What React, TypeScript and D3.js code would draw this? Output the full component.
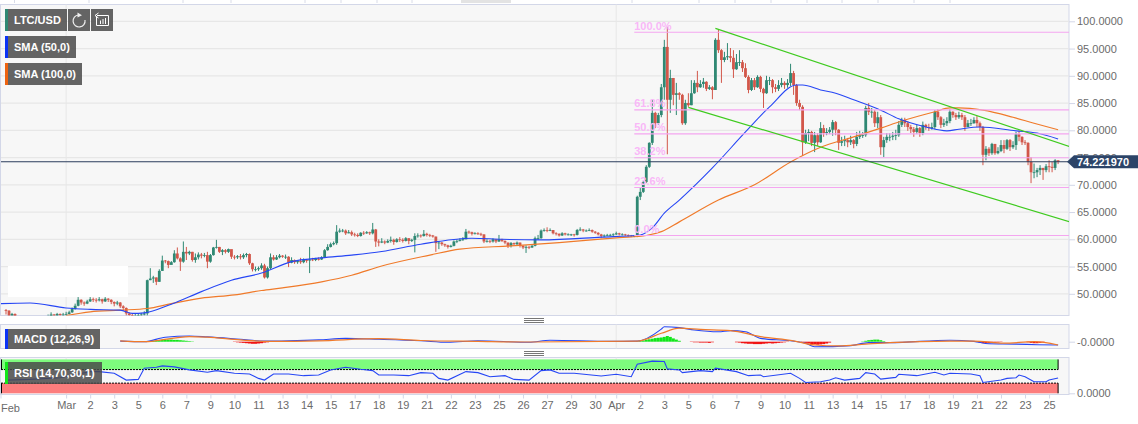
import { useRef, useEffect } from "react";
import * as d3 from "d3";

// 4h candles, one row per 10 candles
const firstOpen = 47.0;
const closes = [
  46.9, 46.0, 46.3, 45.8, 45.5, 45.2, 45.0, 44.7, 44.5, 44.8,
  44.6, 44.9, 45.1, 45.3, 45.9, 46.2, 46.0, 46.3, 46.1, 46.2,
  46.3, 46.6, 47.2, 47.8, 48.9, 48.4, 48.2, 48.6, 49.0, 48.9,
  48.8, 49.0, 48.6, 49.1, 48.9, 48.5, 48.2, 48.4, 47.7, 47.4,
  46.4, 46.1, 45.9, 46.0, 46.1, 46.2, 46.4, 52.5, 52.8, 53.0,
  52.2, 54.2, 56.1, 56.0, 55.3, 55.8, 57.4, 56.5, 55.9, 57.7,
  57.4, 57.7, 56.2, 56.7, 57.2, 57.0, 57.1, 55.9, 57.1, 58.5,
  58.6, 57.7, 58.0, 57.7, 58.2, 56.8, 56.7, 56.9, 56.7, 57.1,
  57.3, 55.6, 54.5, 54.5, 54.7, 55.2, 53.0, 54.7, 56.7, 56.3,
  56.7, 57.0, 56.8, 56.8, 55.7, 56.2, 55.8, 56.0, 55.8, 56.2,
  56.1, 56.3, 56.2, 56.4, 56.3, 56.7, 58.0, 58.6, 59.1, 59.3,
  61.4, 61.6, 61.6, 61.1, 61.3, 60.9, 60.8, 60.6, 61.2, 61.1,
  61.3, 61.1, 61.8, 59.6, 59.4, 59.6, 59.4, 59.7, 59.9, 59.5,
  60.0, 59.9, 59.7, 60.2, 59.7, 59.9, 60.6, 60.7, 60.6, 61.0,
  60.8, 60.7, 60.5, 59.3, 59.4, 59.1, 58.9, 58.6, 58.8, 59.6,
  59.7, 59.9, 60.0, 61.4, 61.3, 61.0, 61.1, 61.0, 60.9, 59.6,
  59.7, 59.6, 60.0, 59.6, 60.0, 59.7, 59.4, 58.8, 59.3, 59.1,
  59.4, 58.8, 58.5, 58.6, 58.5, 58.8, 60.2, 60.2, 61.6, 61.7,
  61.6, 61.7, 61.1, 61.0, 60.7, 61.1, 60.9, 60.9, 60.9, 60.8,
  61.7, 61.8, 61.6, 61.6, 61.7, 61.4, 61.2, 60.9, 60.6, 60.7,
  60.8, 60.8, 60.9, 61.1, 60.9, 60.9, 60.8, 60.7, 60.6, 60.6,
  67.8, 68.7, 70.5, 73.3, 77.7, 83.2, 81.3, 82.8, 87.9, 95.3,
  85.6, 89.6, 86.5, 86.8, 86.5, 81.3, 85.0, 84.6, 86.8, 88.7,
  87.9, 88.5, 88.9, 87.6, 87.9, 87.4, 96.6, 94.7, 92.9, 93.4,
  93.6, 93.3, 91.2, 92.5, 92.5, 91.4, 89.8, 87.4, 89.2, 87.9,
  89.8, 87.6, 86.8, 89.2, 89.2, 87.9, 87.6, 88.3, 88.7, 88.3,
  88.7, 90.5, 88.3, 85.0, 84.3, 77.8, 79.5, 79.7, 77.7, 79.1,
  77.8, 80.4, 79.5, 79.7, 80.1, 81.5, 80.1, 77.7, 78.0, 78.2,
  77.8, 78.2, 77.5, 78.8, 79.1, 79.1, 84.1, 83.4, 83.4, 81.3,
  82.4, 76.9, 78.2, 78.8, 78.8, 79.0, 79.1, 81.0, 81.9, 81.3,
  80.6, 80.2, 79.7, 80.4, 79.5, 81.0, 80.6, 80.4, 80.6, 83.4,
  82.4, 81.0, 81.3, 81.7, 83.4, 82.8, 82.4, 82.8, 82.4, 80.6,
  81.3, 81.3, 81.9, 81.3, 80.6, 75.5, 76.6, 75.8, 77.5, 75.8,
  76.2, 77.3, 76.6, 78.2, 76.9, 77.3, 79.3, 78.8, 77.8, 77.7,
  74.2, 72.3, 72.3, 72.7, 73.1, 72.7, 73.4, 73.3, 73.1, 74.5, 74.22,
];
const highs = [
  47.2, 47.0, 46.5, 46.4, 45.9, 45.6, 45.3, 45.0, 44.8, 45.1,
  44.9, 45.2, 45.4, 45.6, 46.2, 46.6, 46.3, 46.5, 46.4, 46.5,
  46.7, 46.9, 47.5, 48.2, 49.4, 49.0, 48.6, 48.9, 49.4, 49.3,
  49.2, 49.4, 49.1, 49.4, 49.2, 49.0, 48.6, 48.7, 48.5, 47.9,
  47.5, 46.6, 46.3, 46.3, 46.4, 46.5, 46.8, 52.6, 54.7, 53.3,
  53.0, 54.5, 57.0, 56.2, 56.1, 56.0, 58.0, 58.5, 56.7, 59.6,
  58.6, 57.9, 57.7, 57.4, 57.6, 57.5, 57.5, 57.7, 57.3, 58.6,
  59.9, 58.6, 58.2, 58.2, 58.3, 58.0, 57.1, 57.1, 57.3, 57.4,
  57.5, 57.4, 55.7, 55.0, 55.0, 55.6, 55.5, 55.0, 57.4, 57.1,
  57.1, 57.3, 57.1, 57.2, 56.9, 56.7, 56.3, 56.2, 56.6, 56.5,
  56.4, 58.6, 56.6, 56.6, 56.7, 56.9, 58.2, 59.1, 59.4, 59.6,
  62.6, 62.0, 61.9, 61.8, 61.7, 61.6, 61.2, 61.1, 61.3, 61.5,
  61.5, 61.4, 63.0, 61.9, 60.0, 60.2, 59.8, 60.0, 60.5, 60.1,
  60.2, 60.4, 60.2, 60.4, 60.2, 60.1, 61.1, 61.1, 60.9, 61.7,
  61.2, 61.0, 60.8, 60.5, 59.7, 59.5, 59.2, 59.0, 59.0, 59.8,
  60.0, 60.2, 60.4, 61.9, 61.6, 61.4, 61.3, 61.3, 61.2, 60.9,
  60.0, 59.9, 60.2, 60.0, 60.8, 60.1, 59.8, 59.4, 59.5, 59.4,
  59.6, 59.4, 58.9, 58.9, 58.8, 59.0, 60.5, 60.8, 61.8, 62.0,
  62.2, 62.0, 61.7, 61.3, 61.1, 61.3, 61.2, 61.1, 61.0, 61.0,
  61.9, 62.2, 61.9, 61.8, 62.0, 61.8, 61.5, 61.3, 61.0, 60.9,
  61.0, 61.0, 61.1, 61.4, 61.2, 61.1, 61.0, 60.9, 60.8, 60.8,
  68.0, 69.4, 70.7, 73.6, 77.8, 85.6, 83.4, 83.2, 88.5, 96.6,
  99.0, 91.1, 89.6, 88.7, 87.0, 86.7, 85.6, 86.8, 89.2, 89.2,
  90.9, 89.2, 89.6, 89.0, 88.3, 88.1, 96.9, 98.4, 94.9, 94.4,
  96.0, 95.1, 94.7, 94.0, 94.7, 92.9, 92.3, 90.1, 89.6, 89.6,
  90.1, 90.0, 87.8, 90.0, 89.8, 89.4, 88.5, 89.2, 89.6, 89.0,
  89.4, 92.2, 90.9, 88.5, 85.6, 84.6, 80.1, 80.2, 79.9, 79.7,
  79.5, 81.5, 81.0, 80.4, 80.6, 81.9, 81.7, 80.2, 78.8, 79.0,
  78.6, 79.0, 78.4, 79.7, 79.9, 79.7, 84.5, 85.0, 84.1, 83.7,
  83.4, 82.8, 78.8, 79.5, 79.5, 79.7, 80.1, 81.7, 82.3, 82.3,
  81.7, 81.0, 80.6, 81.0, 80.6, 81.6, 81.2, 81.2, 81.4, 83.7,
  83.9, 82.6, 82.1, 82.4, 83.9, 83.5, 83.2, 83.4, 83.2, 82.8,
  81.9, 82.1, 82.4, 82.6, 81.6, 80.8, 77.1, 76.9, 77.7, 77.5,
  76.9, 78.2, 78.2, 78.4, 78.4, 78.0, 79.7, 79.9, 78.9, 78.2,
  77.8, 75.1, 73.9, 73.1, 73.6, 73.1, 73.8, 74.5, 74.2, 74.7, 74.5,
];
const lows = [
  46.2, 45.6, 45.7, 45.5, 45.0, 44.8, 44.6, 44.3, 44.2, 44.5,
  44.3, 44.6, 44.8, 45.0, 45.2, 45.7, 45.6, 45.8, 45.7, 45.9,
  46.0, 46.2, 46.5, 47.1, 47.7, 48.0, 47.8, 48.1, 48.5, 48.5,
  48.4, 48.6, 48.2, 48.5, 48.5, 48.1, 47.7, 47.9, 47.4, 46.9,
  46.0, 45.7, 45.5, 45.6, 45.7, 45.9, 46.0, 46.0, 52.5, 52.0,
  51.6, 52.2, 54.2, 55.6, 54.7, 55.5, 55.7, 56.3, 54.2, 55.7,
  56.2, 57.1, 55.9, 55.7, 56.3, 56.5, 56.7, 54.7, 55.7, 57.0,
  58.3, 57.5, 57.1, 57.4, 57.5, 56.4, 56.3, 56.4, 56.3, 56.4,
  56.7, 55.3, 54.1, 54.1, 54.2, 54.4, 52.8, 52.8, 54.5, 56.1,
  56.2, 56.5, 56.6, 56.4, 54.9, 55.6, 55.5, 55.5, 55.5, 55.6,
  55.7, 53.8, 56.0, 56.0, 56.1, 56.2, 56.6, 57.9, 58.5, 58.9,
  59.0, 61.2, 61.3, 60.8, 61.1, 60.6, 60.5, 60.4, 60.5, 60.8,
  61.0, 60.8, 60.9, 58.6, 58.7, 59.3, 59.1, 59.3, 59.4, 59.0,
  59.4, 59.5, 59.4, 59.6, 59.1, 59.5, 57.6, 60.3, 60.3, 60.5,
  60.5, 60.4, 60.3, 57.7, 58.2, 58.8, 58.6, 58.3, 58.5, 58.7,
  59.3, 59.6, 59.7, 60.0, 61.0, 60.7, 60.9, 60.8, 60.6, 59.3,
  59.4, 59.3, 59.4, 59.3, 59.5, 59.5, 59.1, 58.4, 58.5, 58.8,
  58.9, 58.5, 58.2, 57.5, 58.2, 58.4, 58.7, 59.9, 60.1, 61.4,
  61.3, 61.5, 60.9, 60.7, 60.5, 60.6, 60.7, 60.7, 60.6, 60.5,
  60.7, 61.5, 61.3, 61.4, 61.5, 61.2, 61.0, 60.7, 60.2, 60.4,
  60.6, 60.6, 60.6, 60.8, 60.7, 60.7, 60.6, 60.5, 60.4, 60.4,
  60.4, 67.2, 68.5, 70.3, 73.1, 77.3, 80.4, 81.0, 82.4, 85.6,
  75.6, 83.2, 84.6, 82.8, 85.6, 81.0, 81.0, 84.3, 84.6, 86.7,
  87.0, 87.8, 87.8, 87.2, 87.4, 85.7, 87.4, 94.2, 88.7, 92.5,
  92.9, 92.5, 89.6, 91.1, 91.8, 90.7, 89.6, 86.8, 87.2, 87.4,
  87.8, 87.0, 84.1, 86.7, 88.3, 86.8, 87.0, 87.2, 87.9, 87.6,
  87.8, 88.1, 86.5, 84.5, 83.7, 75.3, 77.5, 78.0, 77.1, 76.0,
  77.1, 77.7, 78.8, 79.1, 79.3, 79.0, 79.1, 76.4, 77.1, 77.1,
  76.9, 77.3, 76.7, 77.1, 78.4, 78.6, 78.8, 82.8, 82.3, 80.6,
  80.4, 75.5, 75.1, 77.7, 78.0, 78.2, 78.2, 78.8, 80.6, 80.6,
  79.9, 79.5, 78.8, 79.3, 78.8, 79.1, 80.1, 79.9, 80.1, 80.2,
  81.9, 80.4, 80.6, 80.8, 81.3, 82.3, 81.9, 82.1, 81.9, 79.9,
  80.6, 80.8, 81.2, 80.6, 79.9, 73.6, 74.5, 75.3, 75.5, 75.5,
  75.6, 76.0, 75.8, 76.4, 76.2, 76.6, 76.4, 78.0, 77.3, 77.3,
  73.6, 70.3, 71.2, 71.4, 71.8, 70.9, 72.3, 72.3, 72.3, 72.7, 73.8,
];

const sma50Index = [-2, 8, 20, 28, 38, 42, 46, 55, 65, 75, 85, 95, 105, 115, 125, 138, 155, 165, 178, 198, 211, 215, 219, 224, 235, 246, 254, 263, 265, 271, 276, 282, 291, 297, 306, 313, 317, 324, 336, 343, 350];
const sma50Values = [48.2, 48.3, 47.4, 47.15, 47.0, 46.4, 46.5, 48.1, 50.4, 52.5, 53.8, 55.9, 56.6, 57.1, 57.75, 59.1, 60.2, 60.0, 59.9, 60.4, 60.8, 62.1, 64.8, 67.2, 73.1, 79.7, 84.3, 88.3, 88.3, 87.4, 86.8, 85.6, 83.7, 82.1, 80.6, 79.9, 80.2, 80.6, 79.9, 79.5, 78.4];
const sma100Index = [20, 28, 38, 47, 55, 65, 76, 85, 92, 105, 115, 125, 141, 151, 168, 184, 204, 213, 218, 224, 237, 249, 261, 271, 282, 291, 298, 309, 314, 317, 325, 335, 342, 350];
const sma100Values = [46.0, 46.7, 47.0, 47.3, 48.2, 49.2, 49.8, 50.6, 51.1, 52.2, 53.4, 55.1, 57.1, 58.2, 58.8, 59.4, 60.3, 60.7, 61.4, 63.2, 67.2, 70.0, 74.2, 76.9, 78.8, 80.4, 81.7, 83.4, 84.1, 84.1, 83.7, 82.4, 81.3, 80.1];

const channelUpper = { index: [236, 354], value: [98.7, 77.0] };
const channelLower = { index: [227, 354], value: [84.2, 63.2] };

const fibStart = 209;
const fibEnd = 354;
const fibLabels = ["100.0%", "61.8%", "50.0%", "38.2%", "23.6%", "0.0%"];
const fibValues = [98.0, 83.75, 79.35, 74.95, 69.5, 60.7];

const priceTicks = [50, 55, 60, 65, 70, 75, 80, 85, 90, 95, 100];
const lastPrice = 74.22197;

const macdIndex = [38, 46, 53, 61, 67, 78, 86, 94, 104, 113, 124, 138, 147, 157, 174, 181, 201, 210, 218, 219, 224, 229, 237, 241, 246, 251, 261, 266, 269, 281, 287, 294, 314, 322, 327, 336, 343, 350];
const macdValues = [0.2, 0.0, 1.5, 1.9, 1.6, 0.8, 0.2, 0.3, 0.6, 1.1, 0.8, 0.3, -0.2, 0.3, -0.2, 0.5, 0.1, 0.2, 4.2, 5.0, 4.7, 3.9, 3.3, 3.7, 3.3, 1.1, 0.3, -0.5, -1.7, -1.3, -0.3, -0.3, 0.5, 0.1, -0.7, -0.8, -1.0, -1.1];
const signalIndex = [38, 46, 61, 67, 78, 88, 104, 124, 138, 157, 174, 210, 218, 224, 231, 241, 251, 262, 269, 277, 286, 294, 314, 322, 332, 342, 350];
const signalValues = [0.3, 0.0, 1.7, 1.5, 0.6, 0.1, 0.3, 1.0, 0.4, 0.1, -0.1, 0.2, 2.8, 4.5, 4.1, 3.7, 1.7, 0.3, -1.1, -1.4, -0.8, -0.3, 0.2, 0.2, -0.5, 0.0, -1.1];
const histStarts = [47, 76, 210, 228, 243, 255, 265, 285, 323, 340];
const histRuns = [
  [0.1, 0.2, 0.3, 0.4, 0.5, 0.6, 0.6, 0.7, 0.7, 0.6, 0.6, 0.5, 0.4, 0.3, 0.2, 0.1],
  [-0.1, -0.2, -0.3, -0.4, -0.5, -0.6, -0.7, -0.7, -0.6, -0.5, -0.3, -0.2],
  [0.1, 0.2, 0.4, 0.6, 0.8, 1.0, 1.2, 1.3, 1.4, 1.6, 1.9, 1.6, 1.1, 0.7, 0.3],
  [-0.1, -0.2, -0.2, -0.3, -0.3, -0.3, -0.4, -0.2],
  [-0.2, -0.3, -0.5, -0.6, -0.7, -0.7, -0.8, -0.8, -0.8, -0.7, -0.6, -0.5],
  [-0.6, -0.5, -0.4, -0.3, -0.2, -0.1],
  [-0.2, -0.4, -0.6, -0.8, -0.9, -1.0, -0.9, -0.8, -0.6, -0.3],
  [0.1, 0.3, 0.5, 0.6, 0.7, 0.7, 0.5, 0.2],
  [-0.1, -0.3, -0.5, -0.5, -0.5, -0.4, -0.3, -0.2, -0.1],
  [-0.2, -0.4, -0.5, -0.5, -0.4, -0.2],
];

const rsiIndex = [0, 8, 18, 28, 31, 36, 40, 44, 46, 50, 52, 56, 61, 67, 70, 76, 81, 84, 86, 89, 94, 99, 104, 108, 113, 118, 122, 124, 129, 134, 138, 142, 144, 147, 153, 157, 161, 166, 169, 174, 178, 181, 184, 189, 198, 203, 208, 210, 215, 219, 220, 224, 225, 231, 235, 236, 243, 247, 251, 252, 261, 264, 266, 271, 274, 276, 279, 284, 286, 289, 291, 296, 297, 303, 306, 309, 312, 314, 321, 324, 325, 331, 333, 336, 337, 339, 342, 346, 347, 350];
const rsiValues = [39, 41, 46, 64, 64, 59, 39, 41, 74, 77, 81, 78, 69, 62, 67, 59, 57, 44, 39, 57, 57, 52, 54, 69, 77, 71, 67, 54, 54, 52, 61, 59, 44, 39, 64, 61, 49, 52, 41, 39, 67, 69, 59, 59, 51, 56, 49, 86, 95, 94, 72, 69, 61, 67, 64, 74, 64, 52, 54, 49, 59, 44, 32, 34, 39, 46, 39, 44, 61, 57, 42, 47, 56, 52, 57, 62, 54, 59, 57, 52, 32, 39, 44, 46, 54, 49, 34, 34, 39, 45];

const dayLabels = ["Mar", "2", "3", "5", "6", "7", "9", "10", "11", "13", "14", "15", "17", "18", "19", "21", "22", "23", "25", "26", "27", "29", "30", "Apr", "2", "3", "5", "6", "7", "9", "10", "11", "13", "14", "15", "17", "18", "19", "21", "22", "23", "25"];
const dayTicks = dayLabels.map((_, i) => (i < 23 ? 20 + i * 8 : 203 + (i - 23) * 8));

const font = "'Liberation Sans', Arial, sans-serif";
const left = 1;
const right = 1069;
const main = { top: 4.5, bottom: 315.5 };
const macdPane = { top: 324.5, bottom: 348.5 };
const rsiPane = { top: 357.5, bottom: 394.5 };
const borderColor = "#d3d7e8";
const gridColor = "#e7e7e7";
const upColor = "#2f8873";
const downColor = "#d2574a";
const blue = "#2646f5";
const orange = "#f07a2a";

// stray marks along the very top edge of the screenshot
const topMarks = [14.5, 89, 183, 231, 305, 341, 377, 412, 632, 699, 735, 771, 807, 842, 878, 914, 950];

const xScale = d3.scaleLinear().domain([0, 350]).range([6, 1058.1]);
const yScale = d3.scaleLinear().domain([50, 100]).range([293.8, 21.3]);
const macdY = d3.scaleLinear().domain([-2.2, 5.8]).range([348.3, 324.3]);
const rsiY = d3.scaleLinear().domain([0, 100]).range([393.3, 359.4]);

const curveLine = (scale: d3.ScaleLinear<number, number>) =>
  d3
    .line<[number, number]>()
    .x((d) => xScale(d[0]))
    .y((d) => scale(d[1]))
    .curve(d3.curveMonotoneX);

const zip = (a: number[], b: number[]) => a.map((v, i) => [v, b[i]] as [number, number]);

const Pane = ({ p }: { p: { top: number; bottom: number } }) => (
  <rect x={left - 0.5} y={p.top} width={right - left + 0.5} height={p.bottom - p.top} fill="#f7f7f7" stroke={borderColor} />
);

const Legend = ({ y, w, h, color, label }: { y: number; w: number; h: number; color: string; label: string }) => (
  <g>
    <rect x={5} y={y} width={w} height={h} fill="#4a4a4a" fillOpacity={0.85} />
    <rect x={5} y={y} width={3} height={h} fill={color} />
    <text x={14} y={y + h / 2 + 4} fill="#fff" fontSize={11} fontWeight="bold" fontFamily={font}>
      {label}
    </text>
  </g>
);

const Handle = ({ y }: { y: number }) => (
  <g stroke="#777">
    {[0, 2, 4].map((d) => (
      <line key={d} x1={524} x2={544} y1={y + d} y2={y + d} />
    ))}
  </g>
);

export default function App() {
  const priceAxisRef = useRef<SVGGElement>(null);
  const macdAxisRef = useRef<SVGGElement>(null);
  const rsiAxisRef = useRef<SVGGElement>(null);
  const timeAxisRef = useRef<SVGGElement>(null);

  useEffect(() => {
    const style = (g: any) => {
      g.select(".domain").remove();
      g.selectAll("line").attr("stroke", borderColor);
      g.selectAll("text").attr("fill", "#6b6b6b").attr("font-size", 11).attr("font-family", font);
    };
    d3.select(priceAxisRef.current!)
      .call(d3.axisRight(yScale).tickValues(priceTicks).tickFormat((d) => (+d).toFixed(4)).tickSize(6).tickPadding(2) as any)
      .call(style);
    d3.select(macdAxisRef.current!)
      .call(d3.axisRight(macdY).tickValues([0]).tickFormat(() => "-0.0000").tickSize(6).tickPadding(2) as any)
      .call(style);
    d3.select(rsiAxisRef.current!)
      .call(d3.axisRight(rsiY).tickValues([0]).tickFormat((d) => (+d).toFixed(4)).tickSize(6).tickPadding(2) as any)
      .call(style);
    d3.select(timeAxisRef.current!)
      .call(d3.axisBottom(xScale).tickValues(dayTicks).tickFormat((_, i) => dayLabels[i]).tickSize(4).tickPadding(3) as any)
      .call(style);
  }, []);

  const opens = closes.map((_, i) => (i === 0 ? firstOpen : closes[i - 1]));
  const priceLine = curveLine(yScale);
  const macdLine = curveLine(macdY);
  const rsiLine = d3
    .line<[number, number]>()
    .x((d) => xScale(d[0]))
    .y((d) => rsiY(d[1]));
  const monthLines = [dayTicks[0], dayTicks[23]];

  return (
    <svg width={1138} height={424} style={{ position: "absolute", left: 0, top: 0, background: "#fff" }}>
      <defs>
        <clipPath id="mainClip">
          <rect x={left} y={main.top} width={right - left} height={main.bottom - main.top} />
        </clipPath>
      </defs>

      {topMarks.map((x) => (
        <line key={x} x1={x} x2={x} y1={0} y2={3} stroke="#d9dce8" />
      ))}
      <rect x={461} y={0} width={50} height={3} fill="#e3e3e3" />

      <Pane p={main} />
      <Pane p={macdPane} />
      <Pane p={rsiPane} />

      {priceTicks.map((t) => (
        <line key={t} x1={left} x2={right} y1={yScale(t)} y2={yScale(t)} stroke={gridColor} strokeWidth={1.2} />
      ))}
      {monthLines.map((i) => (
        <g key={i} stroke={gridColor}>
          <line x1={xScale(i)} x2={xScale(i)} y1={main.top} y2={main.bottom} />
          <line x1={xScale(i)} x2={xScale(i)} y1={macdPane.top} y2={macdPane.bottom} />
          <line x1={xScale(i)} x2={xScale(i)} y1={rsiPane.top} y2={rsiPane.bottom} />
        </g>
      ))}

      <g clipPath="url(#mainClip)">
        {closes.map((c, i) => {
          const color = c >= opens[i] ? upColor : downColor;
          const top = yScale(Math.max(c, opens[i]));
          const bottom = yScale(Math.min(c, opens[i]));
          return (
            <g key={i}>
              <line x1={xScale(i)} x2={xScale(i)} y1={yScale(highs[i])} y2={yScale(lows[i])} stroke={color} strokeWidth={1} />
              <rect x={xScale(i) - 1.4} y={top} width={2.8} height={Math.max(bottom - top, 0.8)} fill={color} />
            </g>
          );
        })}

        <path d={priceLine(zip(sma100Index, sma100Values))!} fill="none" stroke={orange} strokeWidth={1.2} />
        <path d={priceLine(zip(sma50Index, sma50Values))!} fill="none" stroke={blue} strokeWidth={1.1} />

        {fibValues.map((v, i) => (
          <g key={fibLabels[i]}>
            <line x1={xScale(fibStart)} x2={xScale(fibEnd)} y1={yScale(v)} y2={yScale(v)} stroke="#f4a6f0" strokeWidth={1.1} />
            <text x={xScale(fibStart)} y={yScale(v) - 2.4} fill="#f9b8f7" fontSize={11} fontWeight="bold" fontFamily={font}>
              {fibLabels[i]}
            </text>
          </g>
        ))}

        {[channelUpper, channelLower].map((c, i) => (
          <line
            key={i}
            x1={xScale(c.index[0])}
            x2={xScale(c.index[1])}
            y1={yScale(c.value[0])}
            y2={yScale(c.value[1])}
            stroke="#3fcb1f"
            strokeWidth={1.2}
          />
        ))}

        <line x1={left} x2={right} y1={yScale(lastPrice)} y2={yScale(lastPrice)} stroke="#2b3d5c" strokeWidth={1.1} />
      </g>

      <rect x={8} y={266} width={120} height={31} fill="#fff" />

      <g>
        {histStarts.map((start, r) =>
          histRuns[r].map((v, i) => (
            <rect
              key={`${r}-${i}`}
              x={xScale(start + i) - 1.5}
              y={Math.min(macdY(v), macdY(0))}
              width={3}
              height={Math.abs(macdY(v) - macdY(0))}
              fill={v > 0 ? "#12e61a" : "#f01414"}
            />
          )),
        )}
        <path d={macdLine(zip(macdIndex, macdValues))!} fill="none" stroke={blue} strokeWidth={1.1} />
        <path d={macdLine(zip(signalIndex, signalValues))!} fill="none" stroke={orange} strokeWidth={1.2} />
      </g>

      <g>
        <rect x={left + 0.5} y={rsiY(100)} width={xScale(350) - left - 0.5} height={rsiY(70) - rsiY(100)} fill="#7dfc7d" />
        <rect x={left + 0.5} y={rsiY(30)} width={xScale(350) - left - 0.5} height={rsiY(0) - rsiY(30)} fill="#fc7d7d" />
        <line x1={left} x2={xScale(350)} y1={rsiY(70)} y2={rsiY(70)} stroke="#000" strokeDasharray="2 1" />
        <line x1={left} x2={xScale(350)} y1={rsiY(30)} y2={rsiY(30)} stroke="#000" strokeDasharray="2 1" />
        <line x1={xScale(350)} x2={xScale(350)} y1={rsiY(100)} y2={rsiY(70)} stroke="#000" />
        <line x1={xScale(350)} x2={xScale(350)} y1={rsiY(30)} y2={rsiY(0)} stroke="#000" />
        <line x1={left + 0.5} x2={left + 0.5} y1={rsiY(100)} y2={rsiY(70)} stroke="#000" />
        <line x1={left + 0.5} x2={left + 0.5} y1={rsiY(30)} y2={rsiY(0)} stroke="#000" />
        <path d={rsiLine(zip(rsiIndex, rsiValues))!} fill="none" stroke={blue} strokeWidth={1.1} />
      </g>

      <Handle y={318.5} />
      <Handle y={351.5} />

      <g ref={priceAxisRef} transform={`translate(${right},0)`} />
      <g ref={macdAxisRef} transform={`translate(${right},0)`} />
      <g ref={rsiAxisRef} transform={`translate(${right},0)`} />
      <g ref={timeAxisRef} transform={`translate(0,${rsiPane.bottom})`} />
      <line x1={1} x2={1} y1={rsiPane.bottom} y2={rsiPane.bottom + 4} stroke={borderColor} />
      <text x={1} y={412} fill="#6b6b6b" fontSize={11} fontFamily={font}>
        Feb
      </text>

      <path
        d={`M1138,${yScale(lastPrice) - 6.5}H1074L1067,${yScale(lastPrice)}L1074,${yScale(lastPrice) + 6.5}H1138Z`}
        fill="#2c4468"
      />
      <text x={1077} y={yScale(lastPrice) + 4} fill="#fff" fontSize={11} fontWeight="bold" fontFamily={font}>
        {lastPrice.toFixed(6)}
      </text>

      <Legend y={9} w={62} h={22} color="#2f8873" label="LTC/USD" />
      <Legend y={36} w={71} h={22} color="#0a32f5" label="SMA (50,0)" />
      <Legend y={63} w={77} h={22} color="#ee6310" label="SMA (100,0)" />
      <Legend y={329} w={95} h={20} color="#0a32f5" label="MACD (12,26,9)" />
      <Legend y={362} w={97} h={22} color="#12e61a" label="RSI (14,70,30,1)" />

      {/* refresh and history buttons */}
      <rect x={68} y={9} width={22} height={22} fill="#4a4a4a" fillOpacity={0.85} />
      <path d="M85,20A6,6 0 1 1 78.5,15" fill="none" stroke="#eee" strokeWidth={1.2} />
      <path d="M77.5,12.5L82,15.2L77.5,17.5Z" fill="#eee" />
      <rect x={91} y={9} width={22} height={22} fill="#4a4a4a" fillOpacity={0.85} />
      <path d="M96.5,16V25.5H108.5V15.5H97M100.5,24V20.5M103,24V19M105.5,24V18M95,15.5L98.5,13M95,15.5L98.5,18" fill="none" stroke="#fff" />
    </svg>
  );
}
